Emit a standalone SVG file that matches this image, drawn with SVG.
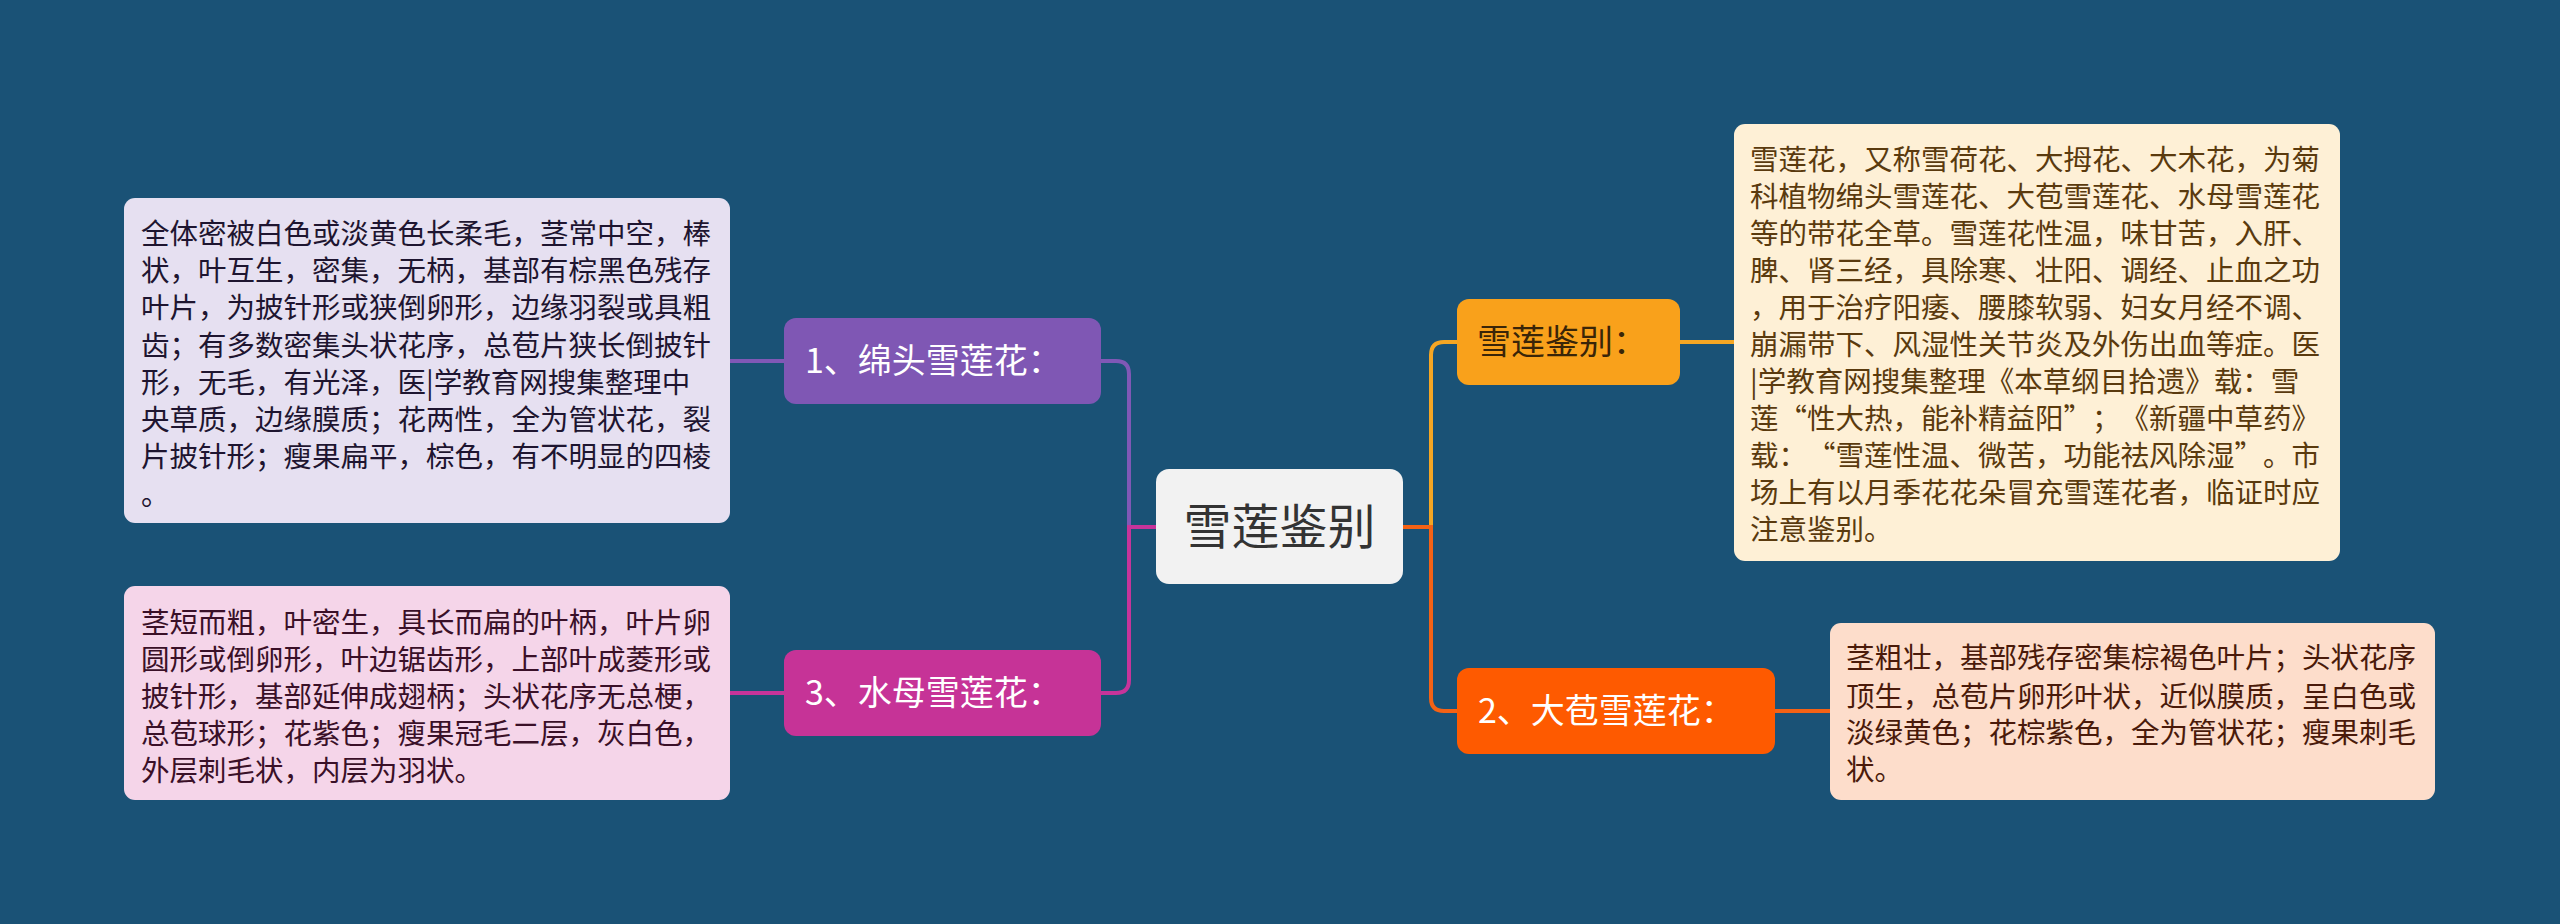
<svg xmlns="http://www.w3.org/2000/svg" width="2560" height="924" viewBox="0 0 2560 924">
<style>
text{font-family:"Noto Sans CJK SC","Noto Sans",sans-serif;font-feature-settings:"chws" 0;text-spacing-trim:space-all;}
.leaf{font-size:28.5px;}
.node{font-size:34px;}
.q{font-feature-settings:"fwid" 1,"chws" 0;}
.conn{fill:none;stroke-width:4;stroke-linecap:butt;}
</style>
<rect x="0" y="0" width="2560" height="924" fill="#1A5276"/>
<g id="connectors">
<path class="conn" stroke="#8058B6" d="M1129,527 V374 Q1129,361 1116,361 H1101"/>
<path class="conn" stroke="#C6349A" d="M1156,527 H1129 V680 Q1129,693 1116,693 H1101"/>
<path class="conn" stroke="#F5A623" d="M1431,527 V355 Q1431,342 1444,342 H1457"/>
<path class="conn" stroke="#F46215" d="M1403,527 H1431 V698 Q1431,711 1444,711 H1457"/>
<path class="conn" stroke="#8058B6" d="M784,361 H730"/>
<path class="conn" stroke="#C6349A" d="M784,693 H730"/>
<path class="conn" stroke="#F5A623" d="M1680,342 H1734"/>
<path class="conn" stroke="#F46215" d="M1775,711 H1830"/>
</g>
<g id="center">
<rect x="1156" y="469" width="247" height="115" rx="13" fill="#F2F2F2"/>
<text x="1279.5" y="544" font-size="48" text-anchor="middle" fill="#333333">雪莲鉴别</text>
</g>
<g id="node1">
<rect x="784" y="318" width="317" height="86" rx="12" fill="#7F57B4"/>
<text class="node" x="805" y="373" fill="#FFFFFF">1、绵头雪莲花：</text>
</g>
<g id="node3">
<rect x="784" y="650" width="317" height="86" rx="12" fill="#C63397"/>
<text class="node" x="805" y="705" fill="#FFFFFF">3、水母雪莲花：</text>
</g>
<g id="nodeJB">
<rect x="1457" y="299" width="223" height="86" rx="12" fill="#F9A11B"/>
<text class="node" x="1477" y="354" fill="#3A2508">雪莲鉴别：</text>
</g>
<g id="node2">
<rect x="1457" y="668" width="318" height="86" rx="12" fill="#FE5A00"/>
<text class="node" x="1478" y="723" fill="#FFFFFF">2、大苞雪莲花：</text>
</g>
<g id="leaf1">
<rect x="124" y="198" width="606" height="325" rx="11" fill="#E6E0F1"/>
<text class="leaf" fill="#1E1530">
<tspan x="141" y="244">全体密被白色或淡黄色长柔毛，茎常中空，棒</tspan>
<tspan x="141" y="281">状，叶互生，密集，无柄，基部有棕黑色残存</tspan>
<tspan x="141" y="318">叶片，为披针形或狭倒卵形，边缘羽裂或具粗</tspan>
<tspan x="141" y="356">齿；有多数密集头状花序，总苞片狭长倒披针</tspan>
<tspan x="141" y="393">形，无毛，有光泽，医|学教育网搜集整理中</tspan>
<tspan x="141" y="430">央草质，边缘膜质；花两性，全为管状花，裂</tspan>
<tspan x="141" y="467">片披针形；瘦果扁平，棕色，有不明显的四棱</tspan>
<tspan x="141" y="505">。</tspan>
</text>
</g>
<g id="leaf3">
<rect x="124" y="586" width="606" height="214" rx="11" fill="#F5D5E9"/>
<text class="leaf" fill="#3A1028">
<tspan x="141" y="633">茎短而粗，叶密生，具长而扁的叶柄，叶片卵</tspan>
<tspan x="141" y="670">圆形或倒卵形，叶边锯齿形，上部叶成菱形或</tspan>
<tspan x="141" y="707">披针形，基部延伸成翅柄；头状花序无总梗，</tspan>
<tspan x="141" y="744">总苞球形；花紫色；瘦果冠毛二层，灰白色，</tspan>
<tspan x="141" y="781">外层刺毛状，内层为羽状。</tspan>
</text>
</g>
<g id="leafJB">
<rect x="1734" y="124" width="606" height="437" rx="11" fill="#FEF0D6"/>
<text class="leaf" fill="#5A3A0E">
<tspan x="1750" y="170">雪莲花，又称雪荷花、大拇花、大木花，为菊</tspan>
<tspan x="1750" y="207">科植物绵头雪莲花、大苞雪莲花、水母雪莲花</tspan>
<tspan x="1750" y="244">等的带花全草。雪莲花性温，味甘苦，入肝、</tspan>
<tspan x="1750" y="281">脾、肾三经，具除寒、壮阳、调经、止血之功</tspan>
<tspan x="1750" y="318">，用于治疗阳痿、腰膝软弱、妇女月经不调、</tspan>
<tspan x="1750" y="355">崩漏带下、风湿性关节炎及外伤出血等症。医</tspan>
<tspan x="1750" y="392">|学教育网搜集整理《本草纲目拾遗》载：雪</tspan>
<tspan x="1750" y="429">莲<tspan class="q">“</tspan>性大热，能补精益阳<tspan class="q">”</tspan>；《新疆中草药》</tspan>
<tspan x="1750" y="466">载：<tspan class="q">“</tspan>雪莲性温、微苦，功能祛风除湿<tspan class="q">”</tspan>。市</tspan>
<tspan x="1750" y="503">场上有以月季花花朵冒充雪莲花者，临证时应</tspan>
<tspan x="1750" y="540">注意鉴别。</tspan>
</text>
</g>
<g id="leaf2">
<rect x="1830" y="623" width="605" height="177" rx="11" fill="#FDDDCB"/>
<text class="leaf" fill="#4A1A0A">
<tspan x="1846" y="668">茎粗壮，基部残存密集棕褐色叶片；头状花序</tspan>
<tspan x="1846" y="707">顶生，总苞片卵形叶状，近似膜质，呈白色或</tspan>
<tspan x="1846" y="743">淡绿黄色；花棕紫色，全为管状花；瘦果刺毛</tspan>
<tspan x="1846" y="780">状。</tspan>
</text>
</g>
</svg>
